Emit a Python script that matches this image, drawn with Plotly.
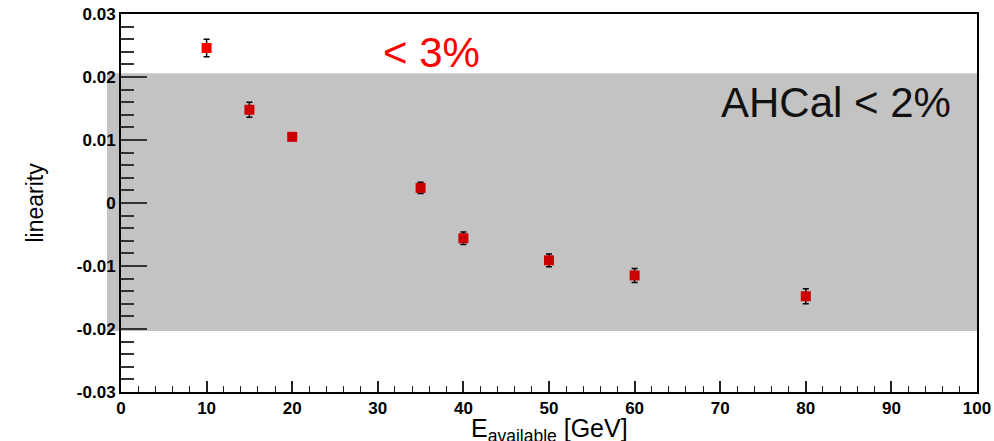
import plotly.graph_objects as go

# Beam energies and measured linearity with statistical errors
energy = [10, 15, 20, 35, 40, 50, 60, 80]
linearity = [0.0246, 0.0148, 0.0105, 0.0024, -0.0056, -0.0091, -0.0115, -0.0148]
lin_err = [0.0014, 0.0012, 0.0004, 0.0009, 0.0010, 0.0010, 0.0011, 0.0012]
point_colors = ["#ff0000"] + ["#cc0000"] * 7

# AHCal linearity band
band_low, band_high = -0.0203, 0.0206

x_range = [0, 100]
y_range = [-0.03, 0.03]
y_ticks = [-0.03, -0.02, -0.01, 0, 0.01, 0.02, 0.03]
y_ticklabels = ["-0.03", "-0.02", "-0.01", "0", "0.01", "0.02", "0.03"]

font_family = "Liberation Sans, Arial, Helvetica, sans-serif"

fig = go.Figure()

fig.add_trace(go.Scatter(
    x=energy, y=linearity,
    mode="markers",
    marker=dict(symbol="square", size=10, color=point_colors,
                line=dict(width=0)),
    error_y=dict(type="data", array=lin_err, color="black",
                 thickness=1.5, width=3),
    showlegend=False,
))

# grey band, slightly extending left of the frame
fig.add_shape(type="rect", xref="paper", yref="y",
              x0=-0.0164, x1=1.0, y0=band_low, y1=band_high,
              fillcolor="#c3c3c3", line=dict(width=0), layer="below")

fig.add_annotation(x=36.3, y=0.0239, xref="x", yref="y",
                   text="&lt; 3%", showarrow=False,
                   font=dict(family=font_family, size=42, color="#ff0000"),
                   xanchor="center", yanchor="middle")
fig.add_annotation(x=83.5, y=0.0160, xref="x", yref="y",
                   text="AHCal &lt; 2%", showarrow=False,
                   font=dict(family=font_family, size=42, color="#111111"),
                   xanchor="center", yanchor="middle")

# axis titles
fig.add_annotation(x=-0.101, y=0.5, xref="paper", yref="paper",
                   text="linearity", textangle=-90, showarrow=False,
                   font=dict(family=font_family, size=23, color="black"),
                   xanchor="center", yanchor="middle")
fig.add_annotation(x=0.5, y=-0.052, xref="paper", yref="paper",
                   text="E<sub>available</sub> [GeV]", showarrow=False,
                   font=dict(family=font_family, size=25, color="black"),
                   xanchor="center", yanchor="top")

tick_font = dict(family=font_family, size=17, color="black", weight="bold")

fig.update_xaxes(
    range=x_range, dtick=10, tick0=0, automargin=False,
    ticks="inside", ticklen=11, tickwidth=1.5, tickcolor="#222222",
    minor=dict(dtick=2, ticks="inside", ticklen=6, tickwidth=1.2,
               tickcolor="#222222", showgrid=False),
    showline=True, linecolor="black", linewidth=2, mirror=True,
    showgrid=False, zeroline=False, tickfont=tick_font,
)
fig.update_yaxes(
    range=y_range, tickmode="array", tickvals=y_ticks, ticktext=y_ticklabels,
    automargin=False,
    ticks="inside", ticklen=26, tickwidth=1.5, tickcolor="#333333",
    minor=dict(dtick=0.002, tick0=0, ticks="inside", ticklen=13, tickwidth=1.5,
               tickcolor="#333333", showgrid=False),
    showline=True, linecolor="black", linewidth=2, mirror=True,
    showgrid=False, zeroline=False, tickfont=tick_font,
)

fig.update_layout(
    width=994, height=441,
    margin=dict(l=121, r=17, t=14, b=49),
    paper_bgcolor="white", plot_bgcolor="white",
    font=dict(family=font_family),
)

fig.write_html("out.html")
